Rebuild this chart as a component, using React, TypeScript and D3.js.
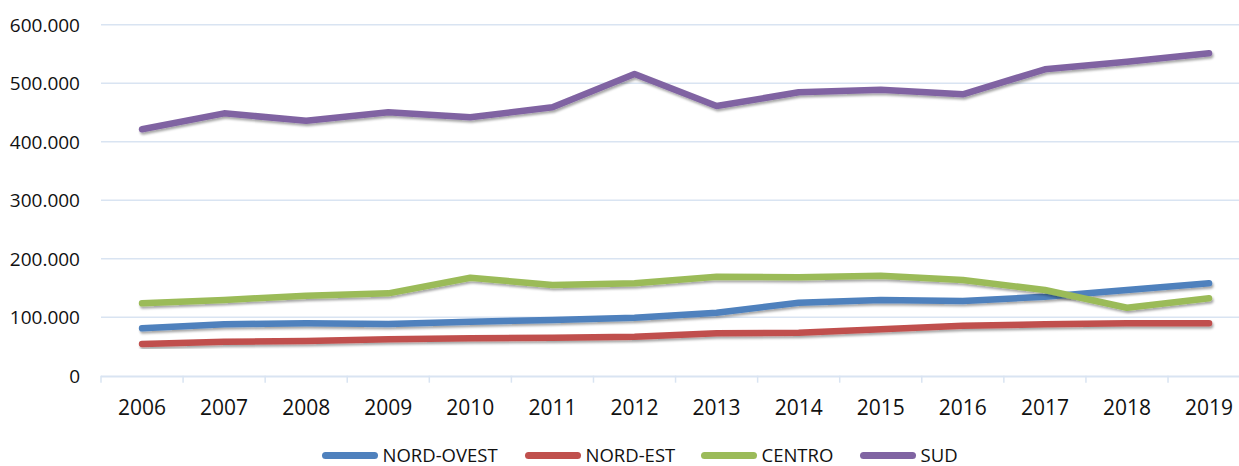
import React, { useEffect } from "react";
import * as d3 from "d3";

const years = ["2006","2007","2008","2009","2010","2011","2012","2013","2014","2015","2016","2017","2018","2019"];
const nordOvest = [81, 87.9, 89.6, 88.4, 92.3, 95.2, 99.2, 107.7, 124.8, 129.4, 127.7, 135, 146.5, 158];
const nordEst = [54.2, 58.1, 59.3, 62.2, 63.9, 65, 66.7, 72.5, 73.5, 79.3, 85.5, 87.9, 89.6, 89.6];
const centro = [123.8, 129.4, 136.8, 140.8, 167.5, 155, 158, 169.2, 168.2, 171, 163.6, 146.5, 116.2, 132.3];
const sud = [421.2, 448.5, 435.9, 450.2, 441.7, 458.8, 515.7, 461, 484.4, 488.9, 481, 523.8, 536.8, 551.1];
const seriesNames = ["NORD-OVEST", "NORD-EST", "CENTRO", "SUD"];
const seriesColors = ["#4F81BD", "#C0504D", "#9BBB59", "#8064A2"];
const yTicks = [0, 100, 200, 300, 400, 500, 600];

const W = 1239, H = 466;
const FONT = "'Open Sans', sans-serif";

export default function App() {
  useEffect(() => {
    document.body.style.margin = "0";
  }, []);

  const x = d3.scaleBand<string>().domain(years).range([101, 1250.1]).paddingInner(0).paddingOuter(0);
  const y = d3.scaleLinear().domain([0, 600]).range([375.7, 24.7]);
  const cx = (yr: string) => (x(yr) as number) + x.bandwidth() / 2;
  const allSeries = [nordOvest, nordEst, centro, sud];
  const line = d3.line<number>().x((_, i) => cx(years[i])).y((v) => y(v));
  const yLabel = (v: number) => (v === 0 ? "0" : `${v}.000`);

  const legendX = [322, 525, 701, 860];
  const legendY = 455.5;
  const gridColor = "#D9E4F2";

  return (
    <svg width={W} height={H} style={{ display: "block", background: "#fff" }} fontFamily={FONT}>
      <defs>
        <filter id="shadow" x="-5%" y="-20%" width="110%" height="140%">
          <feDropShadow dx="1.2" dy="2.2" stdDeviation="1.3" floodColor="#000" floodOpacity="0.35" />
        </filter>
      </defs>
      {yTicks.map((t) => (
        <g key={t}>
          {t !== 0 && (
            <line x1={101} x2={W} y1={y(t)} y2={y(t)} stroke={gridColor} strokeWidth={1.5} />
          )}
          <text x={80} y={y(t)} dy="0.36em" textAnchor="end" fontSize={19} fill="#111">
            {yLabel(t)}
          </text>
        </g>
      ))}
      <line x1={101} x2={W} y1={y(0) + 0.8} y2={y(0) + 0.8} stroke={gridColor} strokeWidth={1.8} />
      {years.map((yr) => (
        <line key={"t" + yr} x1={x(yr) as number} x2={x(yr) as number} y1={y(0)} y2={y(0) + 7} stroke={gridColor} strokeWidth={1.5} />
      ))}
      {years.map((yr) => (
        <text key={"l" + yr} x={cx(yr)} y={415} textAnchor="middle" fontSize={21} fill="#111">
          {yr}
        </text>
      ))}
      {allSeries.map((s, i) => (
        <path key={seriesNames[i]} d={line(s) as string} fill="none" stroke={seriesColors[i]} strokeWidth={6.5}
          strokeLinecap="round" strokeLinejoin="round" filter="url(#shadow)" />
      ))}
      {seriesNames.map((n, i) => (
        <g key={"lg" + n}>
          <line x1={legendX[i] + 3.5} x2={legendX[i] + 52.5} y1={legendY} y2={legendY} stroke={seriesColors[i]} strokeWidth={7} strokeLinecap="round" />
          <text x={legendX[i] + 60.5} y={legendY} dy="0.36em" fontSize={18.5} fill="#111">{n}</text>
        </g>
      ))}
    </svg>
  );
}
